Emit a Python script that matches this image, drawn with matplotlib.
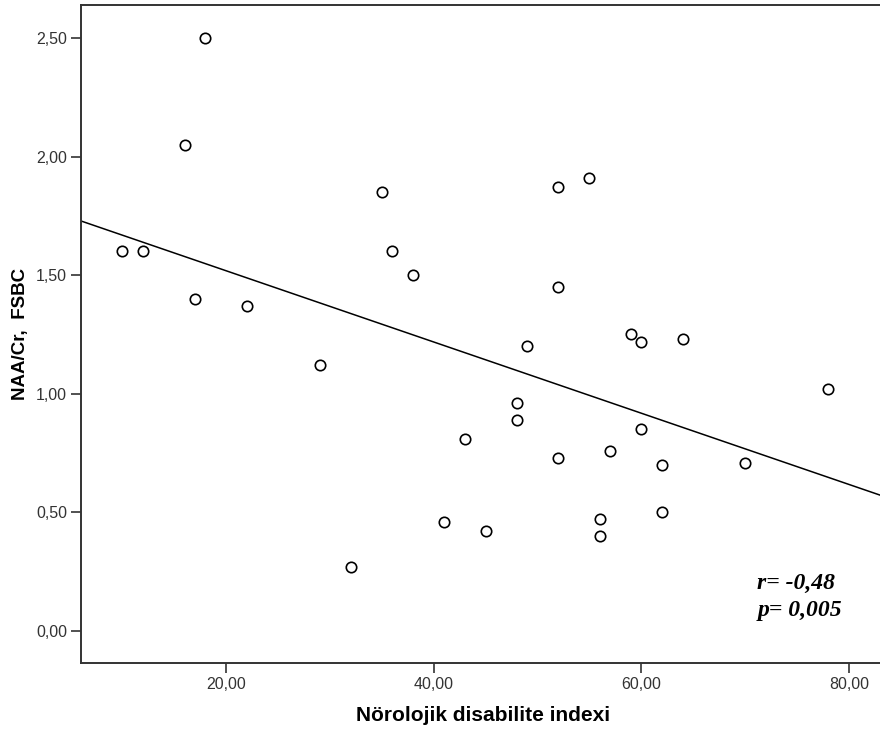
import matplotlib
matplotlib.use("Agg")
import matplotlib.pyplot as plt
import numpy as np

# Nörolojik disabilite indexi vs NAA/Cr (FSBC)
ndi = [10, 12, 16, 17, 18, 22, 29, 32, 35, 36, 38, 41, 43, 45, 48, 48,
       49, 52, 52, 52, 55, 56, 56, 57, 59, 60, 60, 62, 62, 64, 70, 78]
naa_cr = [1.60, 1.60, 2.05, 1.40, 2.50, 1.37, 1.12, 0.27, 1.85, 1.60, 1.50,
          0.46, 0.81, 0.42, 0.96, 0.89, 1.20, 1.87, 1.45, 0.73, 1.91, 0.47,
          0.40, 0.76, 1.25, 1.22, 0.85, 0.70, 0.50, 1.23, 0.71, 1.02]
xticks = [20, 40, 60, 80]
yticks = [0.0, 0.5, 1.0, 1.5, 2.0, 2.5]

plt.rcParams['font.family'] = ['Liberation Sans', 'DejaVu Sans']

fig = plt.figure(figsize=(8.8, 7.4), dpi=100)
ax = fig.add_axes([0.092, 0.1034, 0.914, 0.8905])

x = np.array(ndi, dtype=float)
y = np.array(naa_cr)
# fit line (least squares)
slope, icpt = np.polyfit(x, y, 1)
xl = np.array([6.0, 83.5])
ax.plot(xl, slope * xl + icpt, color='black', lw=1.1, zorder=2)

ax.plot(x, y, 'o', mfc='white', mec='black', ms=7.5, mew=1.2,
        ls='none', zorder=3)

ax.set_xlim(6.0, 83.5)
ax.set_ylim(-0.137, 2.641)
ax.set_xticks(xticks)
ax.set_yticks(yticks)
ax.set_yticklabels([('%.2f' % v).replace('.', ',') for v in yticks],
                   fontsize=11.5, color='#333333')
ax.set_xticklabels([('%.2f' % v).replace('.', ',') for v in xticks],
                   fontsize=11.5, color='#333333')
ax.tick_params(direction='out', length=7, width=1.2, color='#333333', pad=3)

for s in ax.spines.values():
    s.set_linewidth(1.4)
    s.set_color('#333333')

ax.set_xlabel('Nörolojik disabilite indexi', fontsize=15, fontweight='bold',
              labelpad=10)
ax.set_ylabel('NAA/Cr,  FSBC', fontsize=13.5, fontweight='bold', labelpad=5)

ax.text(0.841, 0.101, 'r= -0,48\np= 0,005', transform=ax.transAxes,
        fontsize=17, fontweight='bold', fontstyle='italic',
        family=['Liberation Serif', 'DejaVu Serif'], linespacing=1.35,
        va='center', ha='left')

fig.savefig('out.png', dpi=100)
